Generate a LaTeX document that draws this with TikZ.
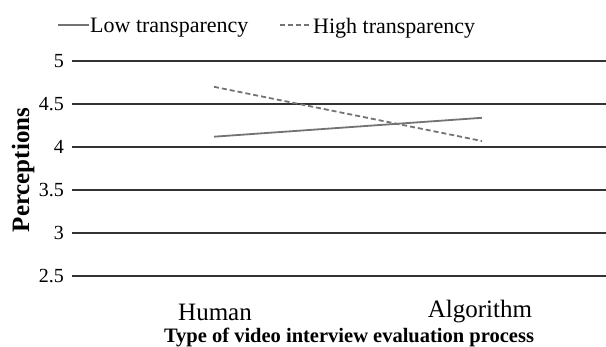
\documentclass[tikz,border=0pt]{standalone}
\usepackage{fontspec}
\setmainfont{Liberation Serif}
\usetikzlibrary{calc}
\tikzset{
 gridline/.style={draw=black!80,line width=1.6pt},
 lowline/.style={draw=black!55,line width=1.8pt},
 highline/.style={draw=black!55,line width=1.8pt,dash pattern=on 5pt off 3pt},
 ticklabel/.style={anchor=east,inner sep=0pt,font=\fontsize{20}{23}\selectfont},
 catlabel/.style={inner sep=0pt,font=\fontsize{25}{28}\selectfont},
 legendlabel/.style={anchor=west,inner sep=0pt,font=\fontsize{22}{26}\selectfont}
}
\begin{document}
\begin{tikzpicture}[x=1pt,y=1pt]
 \useasboundingbox (0,0) rectangle (606,346);
 % grid and ticks
 \foreach \v [count=\i] in {2.5,3,3.5,4,4.5,5}{
  \pgfmathsetmacro{\yy}{86*\v-145}
  \coordinate (gl\i) at (72,\yy); \coordinate (gr\i) at (606,\yy);
  \draw[gridline] (gl\i) -- (gr\i);
  \node[ticklabel] (t\i) at (64,\yy) {\v};
 }
 % data
 \coordinate (lowH) at (214,209.3); \coordinate (lowA) at (482,228.2);
 \coordinate (highH) at (214,259.2); \coordinate (highA) at (482,205.0);
 \draw[lowline] (lowH) -- (lowA);
 \draw[highline] (highH) -- (highA);
 % axes text
 \node[catlabel] (human) at (215,34) {Human};
 \node[catlabel] (algo) at (480,34) {Algorithm};
 \node[inner sep=0pt,font=\fontsize{20.5}{24}\selectfont\bfseries] (xtitle) at (349,8.5) {Type of video interview evaluation process};
 \node[rotate=90,inner sep=0pt,font=\fontsize{25}{28}\selectfont\bfseries] (ytitle) at (23,176) {Perceptions};
 % legend
 \coordinate (ls1) at (58,321); \coordinate (ls2) at (89,321);
 \draw[lowline] (ls1) -- (ls2);
 \node[legendlabel] (lowtxt) at (90,318) {Low transparency};
 \coordinate (hs1) at (280,321); \coordinate (hs2) at (312,321);
 \draw[highline] (hs1) -- (hs2);
 \node[legendlabel] (hightxt) at (313,318) {High transparency};
\end{tikzpicture}
\end{document}
